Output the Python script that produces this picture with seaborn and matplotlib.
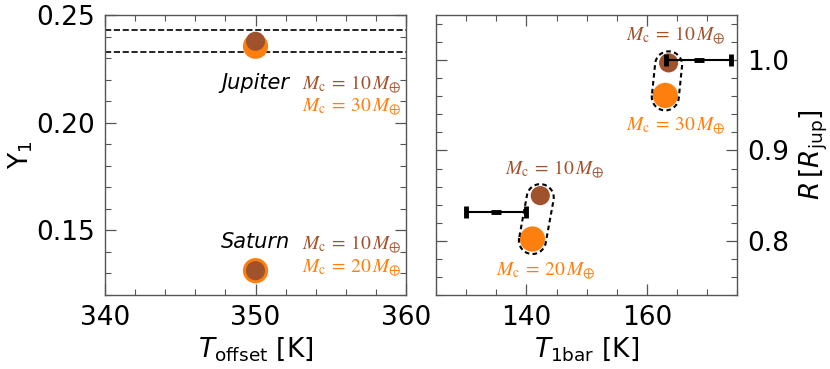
import numpy as np
import pandas as pd
import matplotlib
matplotlib.use("Agg")
import matplotlib.pyplot as plt
import seaborn as sns
from matplotlib.patches import Polygon
from matplotlib.transforms import IdentityTransform
from matplotlib.ticker import MultipleLocator, FormatStrFormatter

# ---------------- data ----------------
planets = ["Jupiter", "Saturn"]
# left panel: T_offset vs Y1
t_offset = [350.0, 350.0]
y1_core10 = [0.2378, 0.1313]          # Mc = 10 M_earth (brown)
y1_coreHi = [0.2355, 0.1313]          # Mc = 30 / 20 M_earth (orange)
y1_bounds = [0.243, 0.233]            # dashed lines (Jupiter constraint)
core_hi_labels = ["30", "20"]

# right panel: T_1bar vs R
t1bar_core10 = [163.6, 142.3]
r_core10 = [0.997, 0.850]
t1bar_coreHi = [163.05, 141.0]
r_coreHi = [0.961, 0.802]
# observed values with errors
obs_t1bar = [168.6, 135.0]
obs_t1bar_err = [5.4, 5.0]
obs_r = [1.0, 0.832]

BROWN = "#A0522D"
ORANGE = "#FF7F0E"
SPINE = "#555555"

sns.set_style("ticks")
plt.rcParams["font.family"] = ["DejaVu Sans"]
plt.rcParams["text.color"] = "black"
plt.rcParams["axes.labelcolor"] = "black"

fig = plt.figure(figsize=(8.3, 3.69), dpi=100)
W, H = 830, 369
axL = fig.add_axes([105 / W, (H - 295) / H, 301 / W, 280 / H])
axR = fig.add_axes([436 / W, (H - 295) / H, 301.3 / W, 280 / H])

FS = 19
for ax in (axL, axR):
    for s in ax.spines.values():
        s.set_color(SPINE)
        s.set_linewidth(1.0)
    ax.tick_params(which="both", direction="in", top=True, bottom=True,
                   left=True, right=True, color=SPINE, labelsize=FS,
                   labelcolor="black")
    ax.tick_params(which="major", length=8, width=0.9, pad=7)
    ax.tick_params(which="minor", length=4, width=0.8)

# ---------------- left panel ----------------
dfL = pd.DataFrame({"planet": planets, "T": t_offset,
                    "Y10": y1_core10, "YHi": y1_coreHi})
sns.scatterplot(data=dfL, x="T", y="YHi", ax=axL, color=ORANGE, s=330,
                edgecolor="none", zorder=3, legend=False)
sns.scatterplot(data=dfL, x="T", y="Y10", ax=axL, color=BROWN, s=190,
                edgecolor="none", zorder=4, legend=False)
for yb in y1_bounds:
    axL.axhline(yb, color="k", ls="--", lw=1.2, zorder=2)

axL.set_xlim(340, 360)
axL.set_ylim(0.12, 0.25)
axL.xaxis.set_major_locator(MultipleLocator(10))
axL.xaxis.set_minor_locator(MultipleLocator(2))
axL.yaxis.set_major_locator(MultipleLocator(0.05))
axL.yaxis.set_minor_locator(MultipleLocator(0.01))
axL.yaxis.set_major_formatter(FormatStrFormatter("%.2f"))
axL.set_xlabel(r"$T_{\rm offset}$ [K]", fontsize=FS, labelpad=3)
axL.set_ylabel(r"Y$_1$", fontsize=FS, labelpad=1)

name_base = [0.2157, 0.1417]
lab_base_hi = [0.2057, 0.1310]
LFS = 14
MC10 = r"$M_{\rm c}\:=\:10\,M_{\oplus}$"
MCHI = r"$M_{\rm c}\:=\:%s\,M_{\oplus}$"
for i, p in enumerate(planets):
    axL.text(350, name_base[i], p, style="italic", fontsize=15,
             ha="center", va="baseline")
    axL.text(359.7, name_base[i], MC10, color=BROWN,
             fontsize=LFS, ha="right", va="baseline", math_fontfamily="stix")
    axL.text(359.7, lab_base_hi[i], MCHI % core_hi_labels[i],
             color=ORANGE, fontsize=LFS, ha="right", va="baseline",
             math_fontfamily="stix")

# ---------------- right panel ----------------
dfR = pd.DataFrame({"planet": planets,
                    "T10": t1bar_core10, "R10": r_core10,
                    "THi": t1bar_coreHi, "RHi": r_coreHi})
sns.scatterplot(data=dfR, x="THi", y="RHi", ax=axR, color=ORANGE, s=330,
                edgecolor="none", zorder=3, legend=False)
sns.scatterplot(data=dfR, x="T10", y="R10", ax=axR, color=BROWN, s=190,
                edgecolor="none", zorder=4, legend=False)
axR.errorbar(obs_t1bar, obs_r, xerr=obs_t1bar_err, fmt="_", ms=7, mew=3.5,
             color="k", ecolor="k", elinewidth=1.5, capsize=4.5, capthick=1.5,
             zorder=5)

axR.set_xlim(125, 175)
axR.set_ylim(0.74, 1.05)
axR.xaxis.set_major_locator(MultipleLocator(20))
axR.xaxis.set_minor_locator(MultipleLocator(5))
axR.yaxis.set_major_locator(MultipleLocator(0.1))
axR.yaxis.set_minor_locator(MultipleLocator(0.02))
axR.yaxis.set_major_formatter(FormatStrFormatter("%.1f"))
axR.yaxis.tick_right()
axR.tick_params(which="both", left=True, right=True, labelleft=False,
                labelright=True)
axR.yaxis.set_label_position("right")
axR.set_xlabel(r"$T_{\rm 1bar}$ [K]", fontsize=FS, labelpad=3)
axR.set_ylabel(r"$R\,[R_{\rm jup}]$", fontsize=FS, labelpad=6)

lab10_xy = [(164.8, 1.0222), (144.7, 0.8748)]
labHi_xy = [(164.8, 0.923), (143.3, 0.763)]
for i in range(2):
    axR.text(*lab10_xy[i], MC10, color=BROWN,
             fontsize=LFS, ha="center", va="baseline", math_fontfamily="stix")
    axR.text(*labHi_xy[i], MCHI % core_hi_labels[i],
             color=ORANGE, fontsize=LFS, ha="center", va="baseline",
             math_fontfamily="stix")


def capsule(ax, p_top, p_bot, r=13.5, off_top=-2.0, off_bot=-1.5):
    a = ax.transData.transform(p_top) + np.array([0, off_top])
    b = ax.transData.transform(p_bot) + np.array([0, off_bot])
    d = b - a
    ang = np.arctan2(d[1], d[0])
    t1 = np.linspace(ang - np.pi / 2, ang + np.pi / 2, 40)
    t2 = np.linspace(ang + np.pi / 2, ang + 3 * np.pi / 2, 40)
    pts = np.vstack([b + r * np.c_[np.cos(t1), np.sin(t1)],
                     a + r * np.c_[np.cos(t2), np.sin(t2)]])
    poly = Polygon(pts, closed=True, fill=False, ls=(0, (2.2, 1.6)), lw=1.5,
                   ec="k", transform=IdentityTransform(), zorder=6,
                   clip_on=False)
    ax.add_artist(poly)


for i in range(2):
    capsule(axR, (t1bar_core10[i], r_core10[i]), (t1bar_coreHi[i], r_coreHi[i]))

fig.savefig("out.png", dpi=100)
